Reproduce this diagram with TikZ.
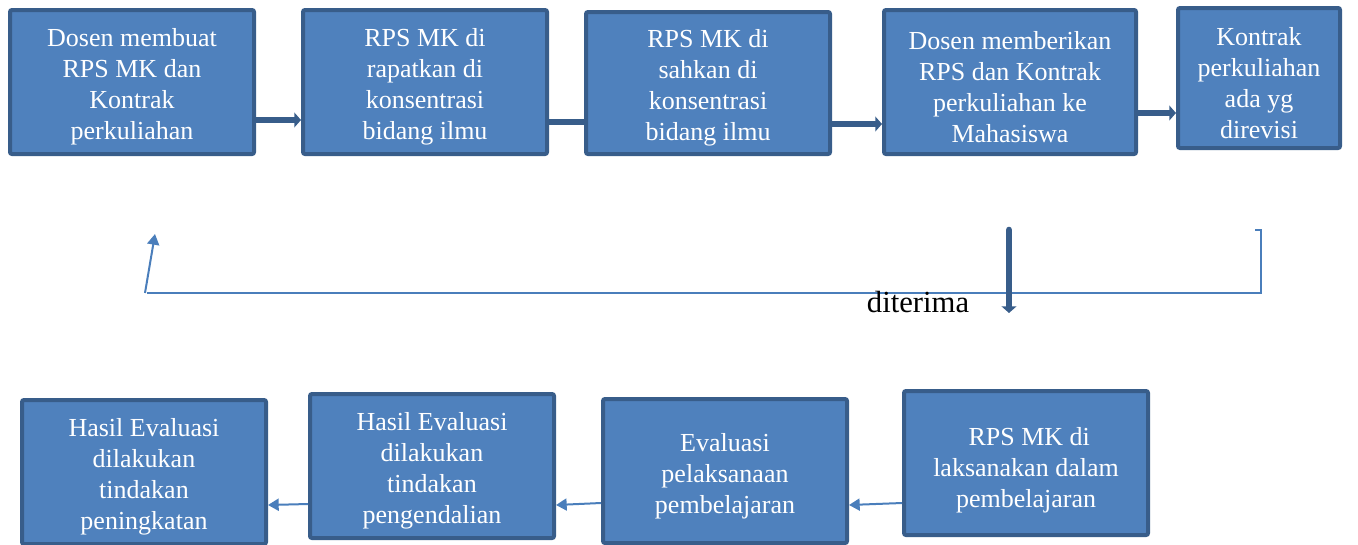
\documentclass[tikz,border=0pt]{standalone}
\usepackage{fontspec}
\setmainfont{Liberation Serif}
\usetikzlibrary{arrows.meta}
\definecolor{isi}{HTML}{4F81BD}
\definecolor{tepi}{HTML}{385D8A}
\definecolor{garis}{HTML}{4A7EBB}
\newcommand{\atas}[1][21pt]{\rule{0pt}{#1}}
\begin{document}
\begin{tikzpicture}[x=0.75pt, y=-0.75pt,
    blok/.style={draw=tepi, fill=isi, line width=3pt, rounded corners=1.5pt,
        minimum width=183pt, minimum height=108pt, align=center,
        text=white, font=\fontsize{19.5}{23.25}\selectfont},
    panah/.style={tepi, line width=5pt, -{Triangle[length=5pt, width=11pt]}},
    tipis/.style={garis, line width=1.5pt},
    panahtipis/.style={tipis, -{Triangle[length=8pt, width=9pt]}}]
    \useasboundingbox (0,0) rectangle (1358,544);

    % Baris atas
    \node[blok] (b1) at (132, 82) {\atas Dosen membuat\\RPS MK dan\\Kontrak\\perkuliahan};
    \node[blok] (b2) at (425, 82) {\atas RPS MK di\\rapatkan di\\konsentrasi\\bidang ilmu};
    \node[blok, minimum height=106.5pt] (b3) at (708, 83) {\atas RPS MK di\\sahkan di\\konsentrasi\\bidang ilmu};
    \node[blok, minimum width=189pt] (b4) at (1010, 82) {\atas Dosen memberikan\\RPS dan Kontrak\\perkuliahan ke\\Mahasiswa};
    \node[blok, minimum width=121.5pt, minimum height=105pt] (b5) at (1259, 78) {\atas Kontrak\\perkuliahan\\ada yg\\direvisi};

    \draw[panah] (b1.east |- 0,120) -- (b2.west |- 0,120);
    \draw[tepi, line width=5pt] (b2.east |- 0,122) -- (b3.west |- 0,122);
    \draw[panah] (b3.east |- 0,124) -- (b4.west |- 0,124);
    \draw[panah] (b4.east |- 0,113) -- (b5.west |- 0,113);

    % Umpan balik
    \coordinate (r1) at (1255, 230);
    \coordinate (r2) at (1261, 230);
    \coordinate (r3) at (1261, 293);
    \coordinate (r4) at (147, 293);
    \coordinate (n1) at (145, 293);
    \coordinate (n2) at (155, 234);
    \draw[tipis] (r1) -- (r2) -- (r3) -- (r4);
    \draw[panahtipis] (n1) -- (n2);

    % Diterima
    \coordinate (t1) at (1009, 230);
    \coordinate (t2) at (1009, 313);
    \draw[panah, line cap=round] (t1) -- (t2);
    \node[font=\fontsize{23}{27}\selectfont] (terima) at (918, 302) {diterima};

    % Baris bawah
    \node[blok] (c1) at (144, 472) {\atas Hasil Evaluasi\\dilakukan\\tindakan\\peningkatan};
    \node[blok] (c2) at (432, 466) {\atas Hasil Evaluasi\\dilakukan\\tindakan\\pengendalian};
    \node[blok] (c3) at (725, 471) {\atas Evaluasi\\pelaksanaan\\pembelajaran};
    \node[blok] (c4) at (1026, 463) {\atas[24pt] RPS MK di\\laksanakan dalam\\pembelajaran};

    \draw[panahtipis] (c4.west |- 0,503) -- (c3.east |- 0,505);
    \draw[panahtipis] (c3.west |- 0,503) -- (c2.east |- 0,505);
    \draw[panahtipis] (c2.west |- 0,504) -- (c1.east |- 0,505);
\end{tikzpicture}
\end{document}
